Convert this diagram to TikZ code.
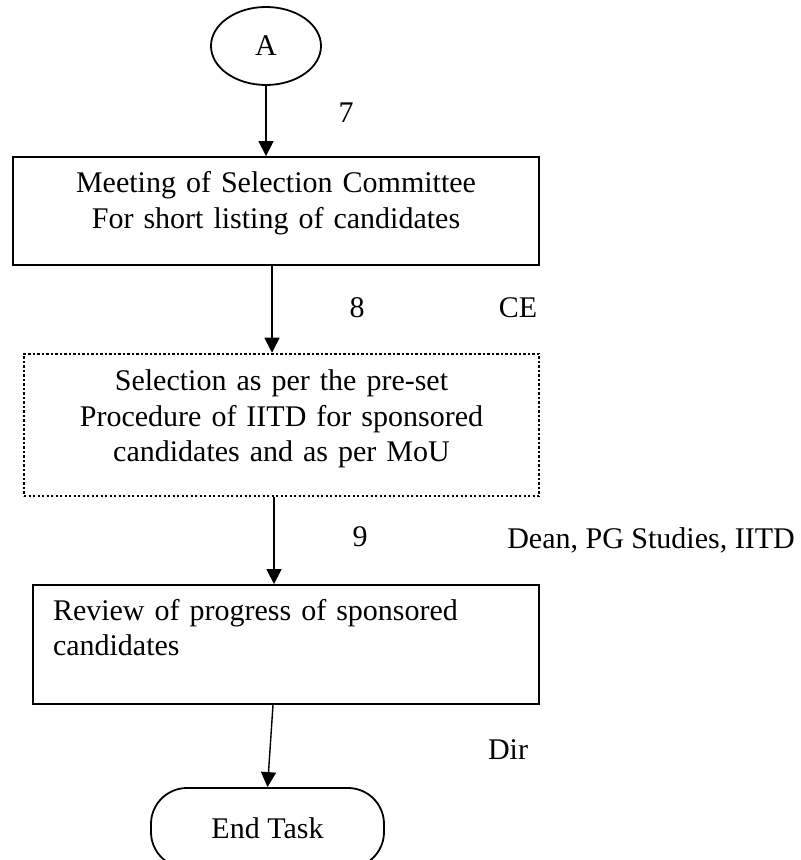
\documentclass[tikz,border=0pt]{standalone}
\usepackage{fontspec}
\setmainfont{Liberation Serif}
\usetikzlibrary{shapes.geometric,arrows.meta}

\begin{document}
\begin{tikzpicture}[x=0.5pt,y=-0.5pt,
  every node/.style={font=\fontsize{15}{17.75}\selectfont},
  box/.style={draw,line width=0.9pt,inner xsep=0pt,inner ysep=0pt},
  dotbox/.style={box,line width=1.25pt,dash pattern=on 1.1pt off 1.15pt},
  arr/.style={line width=0.7pt,-{Triangle[length=7.5pt,width=7.5pt]}}]
\useasboundingbox (0,0) rectangle (801,860);
% flow boxes
\node[draw,ellipse,line width=0.9pt,minimum width=55pt,minimum height=39pt,inner sep=0pt] (A) at (266,46) {A};
\node[box,text width=263pt,align=center,text height=18pt,text depth=36pt] (meet) at (276,211)
  {Meeting of Selection Committee\\For short listing of candidates};
\node[dotbox,text width=257.5pt,align=center,text height=18.5pt,text depth=52.5pt] (sel) at (281.5,425)
  {Selection as per the pre-set\\Procedure of IITD for sponsored\\candidates and as per MoU};
\node[box,inner xsep=10pt,text width=233pt,align=left,text height=17.5pt,text depth=42pt] (rev) at (286,644.5)
  {Review of progress of sponsored\\candidates};
\node[draw,line width=0.9pt,rounded corners=18pt,minimum width=116.5pt,minimum height=40pt,inner sep=0pt] (end) at (267.5,828) {End Task};
% arrows
\draw[arr] (A) -- (A |- meet.north);
\draw[arr] ([xshift=-2pt]meet.south) -- ([xshift=-2pt]meet.south |- sel.north);
\draw[arr] ([xshift=-3.75pt]sel.south) -- ([xshift=-3.75pt]sel.south |- rev.north);
\draw[arr] ([xshift=-6.5pt]rev.south) -- (end.north);
% step numbers and roles
\node (n7) at (346,113) {7};
\node (n8) at (357,308) {8};
\node (ce) at (518,308) {CE};
\node (n9) at (360,537) {9};
\node (dean) at (651,540) {Dean, PG Studies, IITD};
\node (dir) at (508,750) {Dir};
\end{tikzpicture}
\end{document}
